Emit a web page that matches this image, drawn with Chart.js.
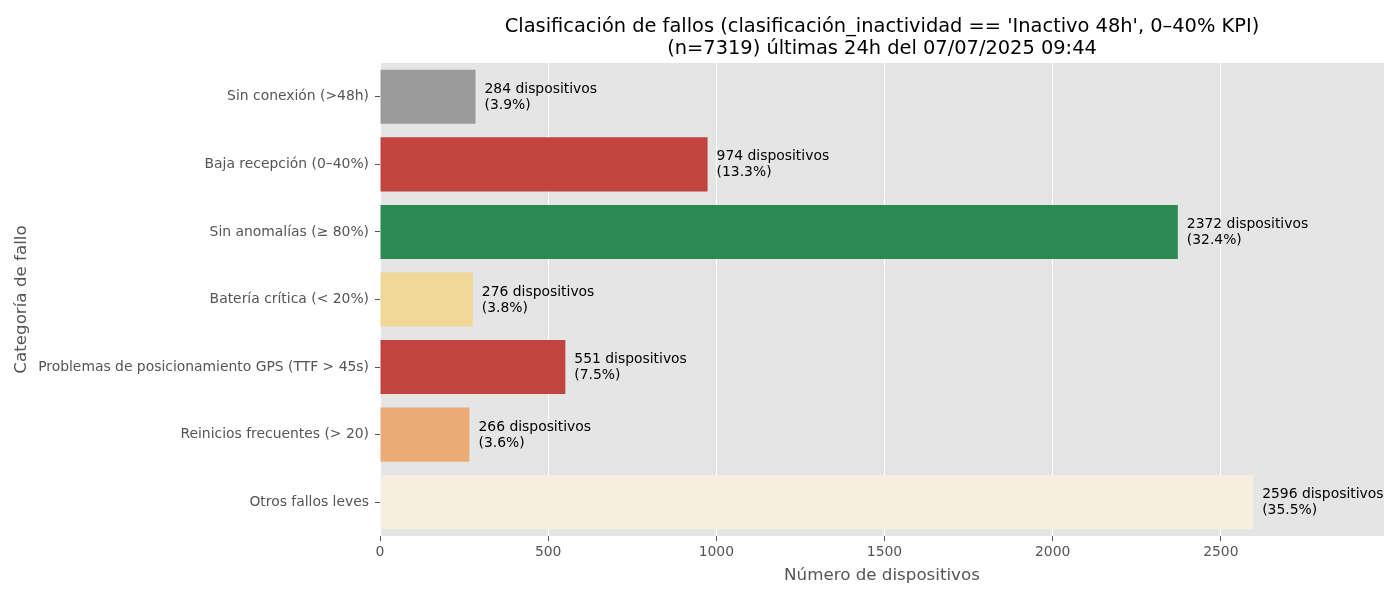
<!DOCTYPE html>
<html><head><meta charset="utf-8">
<script src="https://cdn.jsdelivr.net/npm/chart.js@4"></script>
<style>html,body{margin:0;padding:0;background:#fff}#wrap{width:1400px;height:600px}</style>
</head><body><div id="wrap"><canvas id="c" width="1400" height="600"></canvas></div>
<script>
const categories = [
  'Sin conexión (>48h)',
  'Baja recepción (0–40%)',
  'Sin anomalías (≥ 80%)',
  'Batería crítica (< 20%)',
  'Problemas de posicionamiento GPS (TTF > 45s)',
  'Reinicios frecuentes (> 20)',
  'Otros fallos leves'
];
const counts = [284, 974, 2372, 276, 551, 266, 2596];
const percents = ['3.9', '13.3', '32.4', '3.8', '7.5', '3.6', '35.5'];
const barColors = ['#9b9b9b', '#c1443e', '#2c8a55', '#f1d899', '#c1443e', '#eaac74', '#f6eedf'];
const xTicks = [0, 500, 1000, 1500, 2000, 2500];
const xMax = 2985;
const titleLines = [
  "Clasificación de fallos (clasificación_inactividad == 'Inactivo 48h', 0–40% KPI)",
  "(n=7319) últimas 24h del 07/07/2025 09:44"
];
const xTitle = 'Número de dispositivos';
const yTitle = 'Categoría de fallo';

const FONT = "'DejaVu Sans', sans-serif";

const bgPlugin = {
  id: 'bg',
  beforeDraw(chart) {
    const {ctx, chartArea: a} = chart;
    ctx.save();
    ctx.fillStyle = '#e5e5e5';
    ctx.fillRect(a.left, a.top, a.right - a.left, a.bottom - a.top);
    ctx.restore();
  }
};

const titlePlugin = {
  id: 'twoLineTitle',
  afterDraw(chart) {
    const {ctx, chartArea: a} = chart;
    ctx.save();
    ctx.fillStyle = '#000';
    ctx.font = '19.4px ' + FONT;
    ctx.textAlign = 'center';
    ctx.textBaseline = 'middle';
    const cx = (a.left + a.right) / 2;
    ctx.fillText(titleLines[0], cx, 26.5);
    ctx.fillText(titleLines[1], cx, 48.5);
    ctx.restore();
  }
};

const labelPlugin = {
  id: 'barLabels',
  afterDatasetsDraw(chart) {
    const {ctx} = chart;
    const meta = chart.getDatasetMeta(0);
    ctx.save();
    ctx.fillStyle = '#000';
    ctx.font = '13.9px ' + FONT;
    ctx.textAlign = 'left';
    ctx.textBaseline = 'middle';
    meta.data.forEach((el, i) => {
      const x = el.x + 9;
      ctx.fillText(counts[i] + ' dispositivos', x, el.y - 7.5);
      ctx.fillText('(' + percents[i] + '%)', x, el.y + 8.5);
    });
    ctx.restore();
  }
};

new Chart(document.getElementById('c'), {
  type: 'bar',
  data: {
    labels: categories,
    datasets: [{
      data: counts,
      backgroundColor: barColors,
      borderWidth: 0,
      barPercentage: 0.8,
      categoryPercentage: 1.0
    }]
  },
  options: {
    indexAxis: 'y',
    responsive: false,
    devicePixelRatio: 1,
    animation: false,
    layout: {padding: {top: 63, right: 16, bottom: 0, left: 0}},
    plugins: {legend: {display: false}, title: {display: false}, tooltip: {enabled: false}},
    scales: {
      x: {
        type: 'linear',
        min: 0,
        max: xMax,
        border: {display: false},
        grid: {color: '#ffffff', lineWidth: 1, drawTicks: true, tickLength: 5, tickColor: '#555555'},
        ticks: {color: '#555555', font: {family: FONT, size: 13.9}, padding: 3, maxRotation: 0,
                callback: (v) => String(v)},
        afterBuildTicks(scale) { scale.ticks = xTicks.map(v => ({value: v})); },
        title: {display: true, text: xTitle, color: '#555555', font: {family: FONT, size: 16.7}, padding: {top: 0, bottom: 14}},
        afterFit(scale) { scale.height = 64; }
      },
      y: {
        type: 'category',
        offset: true,
        border: {display: false},
        grid: {offset: false, drawOnChartArea: false, drawTicks: true, tickLength: 5, tickColor: '#555555'},
        ticks: {color: '#555555', font: {family: FONT, size: 13.9}, padding: 6},
        title: {display: true, text: yTitle, color: '#555555', font: {family: FONT, size: 16.7}, padding: {top: 12, bottom: 0}},
        afterFit(scale) { scale.width = 380; }
      }
    }
  },
  plugins: [bgPlugin, titlePlugin, labelPlugin]
});
</script>
</body></html>
